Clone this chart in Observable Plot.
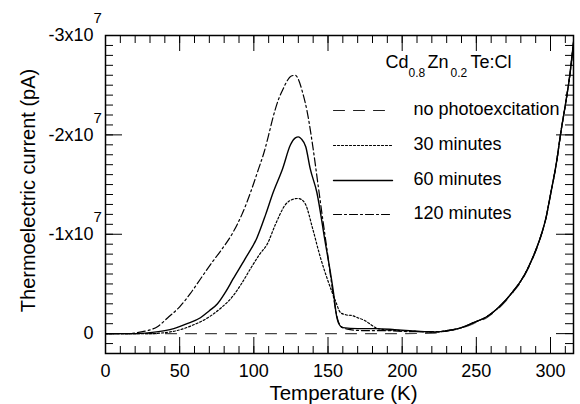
<!DOCTYPE html>
<html><head><meta charset="utf-8">
<script src="https://cdn.jsdelivr.net/npm/d3@7"></script>
<script src="https://cdn.jsdelivr.net/npm/@observablehq/plot@0.6"></script>
<style>body{margin:0;background:#fff}</style>
</head><body><div id="chart"></div>
<script>
// Thermoelectric current in units of 10^7 pA (negative = upward), temperature in K
const xTicksMajor = [0, 50, 100, 150, 200, 250, 300];
const xTicksMinor = d3.range(0, 316, 10);
const yTicksMajor = [-3, -2, -1, 0];
const yTicksMinor = d3.range(-30, 2, 1).map(d => d / 10);
const seriesNames = ["no photoexcitation", "30 minutes", "60 minutes", "120 minutes"];

const tNone = [0, 50, 100, 150, 200, 222, 230, 240, 248, 257, 264, 270, 275, 280, 284.5, 289, 293, 297, 300, 304, 307, 310, 313, 316];
const iNone = [0, 0, 0, 0, 0, -0.005, -0.025, -0.055, -0.1, -0.16, -0.24, -0.33, -0.42, -0.52, -0.64, -0.79, -0.95, -1.16, -1.39, -1.71, -2.02, -2.3, -2.6, -3.0];

const t30 = [0, 30, 40, 48, 58, 69, 78, 86, 92, 98, 104, 109, 114.6, 121.4, 126, 129.5, 132, 134.9, 139.6, 145, 150, 155, 158.5, 162, 166.6, 170, 175, 179, 182, 188, 200, 212, 222, 230, 240, 248, 257, 264, 270, 275, 280, 284.5, 289, 293, 297, 300, 304, 307, 310, 313, 316];
const i30 = [0, 0, -0.01, -0.03, -0.08, -0.16, -0.26, -0.38, -0.51, -0.66, -0.8, -0.9, -1.1, -1.3, -1.35, -1.36, -1.35, -1.3, -1.06, -0.76, -0.53, -0.33, -0.21, -0.19, -0.18, -0.16, -0.13, -0.09, -0.06, -0.04, -0.03, -0.02, -0.015, -0.03, -0.06, -0.11, -0.17, -0.25, -0.34, -0.43, -0.53, -0.65, -0.8, -0.96, -1.17, -1.4, -1.72, -2.03, -2.3, -2.6, -3.0];

const t60 = [0, 20, 30, 40, 46, 55, 64, 70, 75.5, 81, 86, 94, 102, 108, 113, 119.4, 124.7, 128, 130, 132, 135, 138, 142.5, 148, 152, 154, 155.5, 157, 160, 170, 182, 195, 205, 215, 222, 230, 240, 248, 257, 264, 270, 275, 280, 284.5, 289, 293, 297, 300, 304, 307, 310, 313, 316];
const i60 = [0, 0, -0.01, -0.03, -0.05, -0.1, -0.16, -0.23, -0.3, -0.42, -0.55, -0.75, -0.96, -1.2, -1.42, -1.66, -1.9, -1.97, -1.98, -1.96, -1.88, -1.66, -1.42, -0.93, -0.58, -0.38, -0.2, -0.11, -0.06, -0.05, -0.05, -0.04, -0.03, -0.02, -0.015, -0.03, -0.06, -0.11, -0.17, -0.25, -0.34, -0.43, -0.53, -0.65, -0.8, -0.96, -1.17, -1.4, -1.72, -2.03, -2.3, -2.6, -3.0];

const t120 = [0, 15, 25, 35, 42, 50, 57, 64, 71, 78, 86, 92, 98, 103, 107, 110, 113, 116.7, 120, 122.7, 125, 128, 130, 132.8, 136, 139.6, 143, 146, 149, 152, 155, 157, 160, 165, 175, 190, 205, 218, 226, 232, 240, 248, 257, 264, 270, 275, 280, 284.5, 289, 293, 297, 300, 304, 307, 310, 313, 316];
const i120 = [0, 0, -0.02, -0.07, -0.16, -0.27, -0.4, -0.55, -0.7, -0.84, -1.02, -1.2, -1.43, -1.65, -1.83, -2.0, -2.18, -2.36, -2.47, -2.55, -2.59, -2.6, -2.56, -2.43, -2.23, -1.9, -1.53, -1.2, -0.88, -0.55, -0.25, -0.12, -0.06, -0.04, -0.03, -0.03, -0.02, -0.02, -0.02, -0.03, -0.06, -0.11, -0.17, -0.25, -0.34, -0.43, -0.53, -0.65, -0.8, -0.96, -1.17, -1.4, -1.72, -2.03, -2.3, -2.6, -3.0];

const toRows = (T, I) => T.map((t, k) => ({T: t, I: I[k]}));
const curves = [toRows(tNone, iNone), toRows(t30, i30), toRows(t60, i60), toRows(t120, i120)];

// styles (not data)
const dashes = ["11,9", "2,2", null, "8,3,2,3"];
const strokes = ["#444", "black", "black", "black"];
const widths = [1.1, 1.2, 1.4, 1.2];

const W = 580, H = 404, mL = 105, mR = 7, mT = 35, mB = 51;
const iw = W - mL - mR, ih = H - mT - mB;
const font = "'Liberation Sans', Arial, Helvetica, sans-serif";
const hline = {draw(context, l) { context.moveTo(0, 0); context.lineTo(l, 0); }};

const marks = [];
curves.forEach((rows, s) => {
  marks.push(Plot.line(rows, {x: "T", y: "I", stroke: strokes[s], strokeWidth: widths[s], strokeDasharray: dashes[s], curve: "monotone-x", clip: true}));
});
// ticks (inward) on all four sides
marks.push(
  Plot.tickX(xTicksMinor, {x: d => d, insetTop: ih - 7, stroke: "black"}),
  Plot.tickX(xTicksMajor, {x: d => d, insetTop: ih - 16, stroke: "black"}),
  Plot.tickX(xTicksMinor, {x: d => d, insetBottom: ih - 8, stroke: "black"}),
  Plot.tickX(xTicksMajor, {x: d => d, insetBottom: ih - 16, stroke: "black"}),
  Plot.tickY(yTicksMinor, {y: d => d, insetRight: iw - 8, stroke: "black"}),
  Plot.tickY(yTicksMajor, {y: d => d, insetRight: iw - 17, stroke: "black"}),
  Plot.tickY(yTicksMinor, {y: d => d, insetLeft: iw - 8, stroke: "black"}),
  Plot.tickY(yTicksMajor, {y: d => d, insetLeft: iw - 17, stroke: "black"}),
  Plot.frame({stroke: "black", strokeWidth: 1.5})
);
// tick labels
marks.push(
  Plot.text(xTicksMajor, {x: d => d, frameAnchor: "bottom", lineAnchor: "middle", dy: 18, text: d => String(d), fontSize: 18, fill: "black"}),
  Plot.text(yTicksMajor, {y: d => d, frameAnchor: "left", lineAnchor: "middle", dx: -12, textAnchor: "end", text: d => d === 0 ? "0" : `${d}x10`, fontSize: 18, fill: "black"}),
  Plot.text(yTicksMajor.filter(d => d !== 0), {y: d => d, frameAnchor: "left", lineAnchor: "middle", dx: -12, dy: -17, textAnchor: "start", text: () => "7", fontSize: 15, fill: "black"}),
  Plot.text(["Temperature (K)"], {frameAnchor: "bottom", lineAnchor: "middle", textAnchor: "middle", dx: 4, dy: 40, fontSize: 20.5, fill: "black"}),
  Plot.text(["Thermoelectric current (pA)"], {frameAnchor: "left", lineAnchor: "middle", textAnchor: "middle", dx: -77, dy: -4, rotate: -90, fontSize: 20, fill: "black"})
);
// title with subscripts
const titleParts = [["Cd", 280, 27, 18], ["0.8", 303, 38, 12], ["Zn", 322, 27, 18], ["0.2", 345, 38, 12], ["Te:Cl", 365, 27, 18]];
titleParts.forEach(([t, dx, dy, fs]) => {
  marks.push(Plot.text([t], {frameAnchor: "top-left", lineAnchor: "middle", textAnchor: "start", dx, dy, fontSize: fs, fill: "black"}));
});
// legend
const legendDy = [74, 109, 144, 178];
seriesNames.forEach((name, s) => {
  marks.push(
    Plot.vector([0], {frameAnchor: "top-left", dx: 228, dy: legendDy[s] + 1, length: 59, anchor: "start", shape: hline, stroke: s === 0 ? "#222" : "black", strokeWidth: widths[s], strokeDasharray: dashes[s]}),
    Plot.text([name], {frameAnchor: "top-left", lineAnchor: "middle", textAnchor: "start", dx: 308, dy: legendDy[s], fontSize: 18, fill: "black"})
  );
});

const plot = Plot.plot({
  width: W, height: H,
  marginLeft: mL, marginRight: mR, marginTop: mT, marginBottom: mB,
  x: {domain: [0, 315.5], axis: null},
  y: {domain: [0.2, -3], axis: null},
  style: {fontFamily: font, fontSize: "18px", color: "black", background: "white"},
  marks
});
document.getElementById("chart").appendChild(plot);
</script>
</body></html>
